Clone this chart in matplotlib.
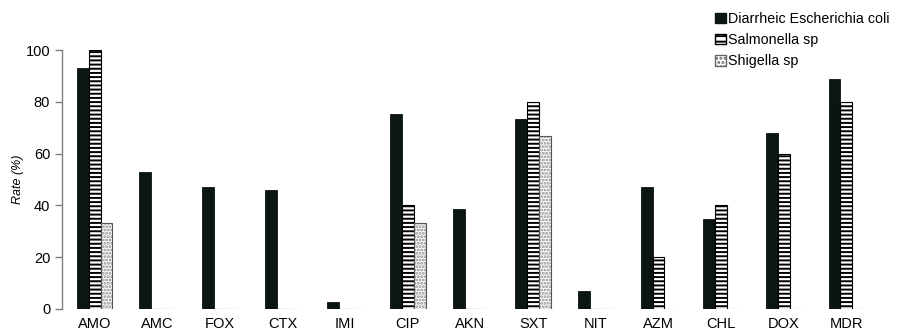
import matplotlib
matplotlib.use("Agg")
import matplotlib.pyplot as plt
import numpy as np
from matplotlib.patches import Patch

categories = ["AMO", "AMC", "FOX", "CTX", "IMI", "CIP", "AKN", "SXT", "NIT", "AZM", "CHL", "DOX", "MDR"]
ecoli = [93.2, 52.8, 47.1, 45.9, 2.7, 75.3, 38.8, 73.5, 6.9, 47.1, 34.7, 68.0, 88.7]
salmonella = [100, 0, 0, 0, 0, 40, 0, 80, 0, 20, 40, 60, 80]
shigella = [33.3, 0, 0, 0, 0, 33.3, 0, 66.7, 0, 0, 0, 0, 0]
series_names = ["Diarrheic Escherichia coli", "Salmonella sp", "Shigella sp"]
yticks = [0, 20, 40, 60, 80, 100]

plt.rcParams['font.family'] = ['Liberation Sans', 'DejaVu Sans']
plt.rcParams['hatch.linewidth'] = 1.4

fig = plt.figure(figsize=(9.02, 3.30), dpi=100)
ax = fig.add_axes([62/902, 21/330, 817/902, 259/330])

x = np.arange(len(categories))
w = 0.19
dark = '#0b1512'

ax.bar(x - w, ecoli, w, color=dark, edgecolor=dark, linewidth=0.6)
ax.bar(x, salmonella, w, color='white', edgecolor='black', hatch='-'*4, linewidth=0.8)
ax.bar(x + w, shigella, w, color='white', edgecolor='#8c8c8c', hatch='.'*5, linewidth=0)
ax.bar(x + w, shigella, w, fill=False, edgecolor='#555555', linewidth=0.8)

ax.set_xlim(-0.52, len(categories) - 0.48)
ax.set_ylim(0, 100)
ax.set_yticks(yticks)
ax.set_xticks(x)
ax.set_xticklabels(categories, fontsize=10.5)
ax.tick_params(axis='y', labelsize=10.5, color='#808080', length=5, width=1, direction='out', pad=3.5)
ax.tick_params(axis='x', length=0, pad=6)
for s in ['top', 'right', 'bottom']:
    ax.spines[s].set_visible(False)
ax.spines['left'].set_color('#808080')
ax.spines['left'].set_linewidth(1)
ax.set_ylabel('Rate (%)', fontsize=9, style='italic', labelpad=1)

handles = [
    Patch(facecolor=dark, edgecolor=dark),
    Patch(facecolor='white', edgecolor='black', hatch='-'*3),
    Patch(facecolor='white', edgecolor='#666666', hatch='.'*4),
]
fig.legend(handles, series_names, loc='upper left', bbox_to_anchor=(715/902, 1 - 12/330),
           frameon=False, fontsize=10.3, handlelength=0.75, handleheight=0.75,
           handletextpad=0.15, labelspacing=0.5, borderaxespad=0, borderpad=0)

fig.savefig('out.png', dpi=100)
